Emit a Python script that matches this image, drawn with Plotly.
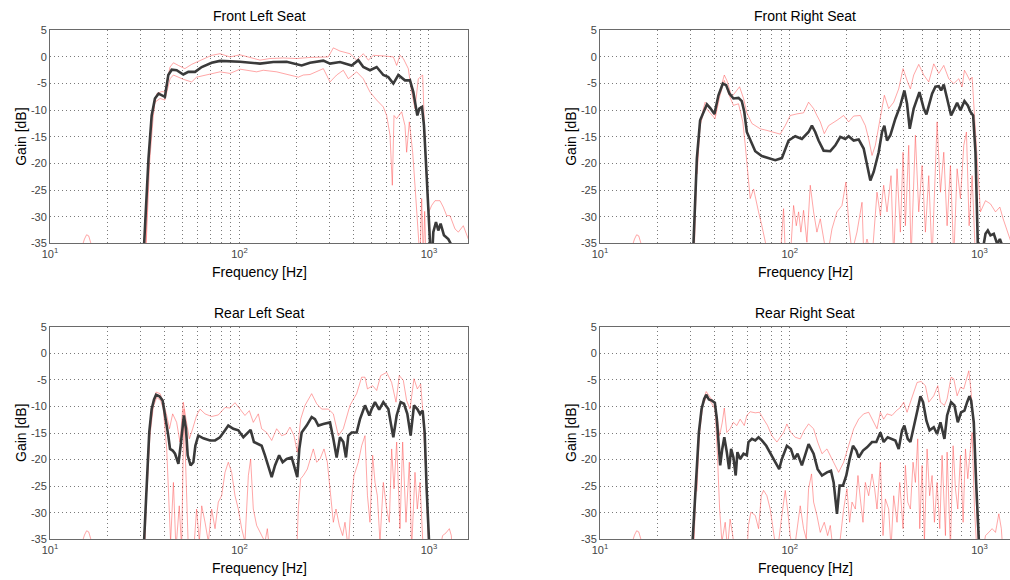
import plotly.graph_objects as go

# ---------------- data (frequency in Hz, gain in dB) ----------------
titles = ["Front Left Seat", "Front Right Seat", "Rear Left Seat", "Rear Right Seat"]
decade_ticks = [10, 100, 1000]
decade_labels = ["10<sup>1</sup>", "10<sup>2</sup>", "10<sup>3</sup>"]
minor_grid = [20, 30, 40, 50, 60, 70, 80, 90, 200, 300, 400, 500, 600, 700, 800, 900]
gain_ticks = [5, 0, -5, -10, -15, -20, -25, -30, -35]

# ---- Front Left ----
fl_mean_f = [31.4, 33.1, 34.4, 35.8, 37.4, 38.9, 40.4, 42.1, 43.9, 46.6, 50.5, 53.7, 58.3, 63.2, 71.3, 78.9,
             100.6, 128.3, 150.9, 177.4, 212.9, 235.6, 277, 300.4, 339.2, 390.9, 423.8, 450.3, 488.4, 529.6,
             574.3, 610.3, 648.5, 689.1, 747.2, 794, 826.8, 868, 889.4, 918.6, 941.3, 972.3, 999.8, 1030,
             1054, 1089, 1120, 1152, 1200, 1265, 1318, 1400]
fl_mean_db = [-35, -19.1, -11.0, -7.8, -6.9, -7.2, -7.5, -3.4, -2.4, -2.5, -3.3, -2.8, -2.8, -1.9, -1.1, -0.75,
              -0.9, -1.25, -0.95, -0.9, -1.6, -1.1, -0.7, -1.25, -0.95, -1.6, -0.6, -1.9, -2.5, -1.9,
              -3.4, -3.8, -5.0, -3.4, -4.4, -4.4, -6.6, -11.0, -9.7, -9.4, -12.9, -22.3, -35, -40,
              -32.9, -31.0, -32.6, -31.3, -33.5, -34.2, -35.4, -37]
fl_up_f = [14, 14.8, 15.2, 15.6, 16.0, 16.5, 17, 31.5, 32.0, 33.3, 34.6, 36.6, 38.9, 40.4, 43.0, 44.8, 47.6,
           51.5, 55.9, 63.2, 71.3, 78.9, 89.1, 100.6, 113.6, 128.3, 144.9, 170.4, 200.3, 235.6, 294.3, 312.8,
           339.2, 383, 415.3, 450.3, 478.6, 508.6, 574.3, 648.5, 675.3, 703.1, 732.2, 778, 810.3, 843.7, 878.7,
           926.2, 952.8, 972.3, 999.8, 1033, 1076, 1143, 1190, 1240, 1291, 1372, 1429, 1518, 1613]
fl_up_db = [-40, -35.5, -34.2, -33.4, -33.6, -35.2, -40, -40, -35, -19, -11, -6.9, -6.5, -6.6, -1.9, -1.1, -1.6,
            -2.2, -1.4, -0.6, 0.3, 0.6, 0, 0.4, -0.1, -0.6, -0.3, -0.2, -0.3, -0.1, 0, 1.7,
            1.1, 0.6, -0.6, 0.6, -0.6, 0.3, 0.2, 0, -1.6, 0.3, -0.3, -2.2, -6.6, -9.7, -4.1,
            -3.4, -16, -23.5, -29.1, -27.9, -27, -27, -28.2, -29.8, -29.8, -32.3, -32.9, -31.7, -34.2]
fl_lo_f = [32.2, 33.6, 35.0, 35.8, 38.1, 40.4, 43.0, 44.8, 50.5, 55.9, 59.4, 69.9, 78.9, 89.1, 100.6, 123.2,
           133.6, 157.1, 184.7, 204.4, 217.3, 235.6, 277, 300.4, 325.7, 353.2, 375.3, 415.3, 450.3, 488.4,
           529.6, 574.3, 598, 622.8, 640.7, 653.8, 675.3, 717.5, 747.2, 762.5, 787.6, 820.2, 843.7, 861,
           882.2, 896.6, 915, 933.7, 949, 964.5, 992]
fl_lo_db = [-35, -19.5, -11.5, -8.5, -7.8, -8.1, -4.1, -3.4, -4.2, -4.7, -3.8, -3.3, -2.8, -3.1, -2.3, -2.8,
            -2.5, -2.8, -3.4, -3.8, -3.4, -3.3, -2.2, -4.7, -3.4, -2.5, -4.1, -2.8, -4.1, -6.6,
            -8.1, -9.4, -11, -14.7, -24.1, -11, -11.6, -10.3, -12.9, -17.9, -12.2, -17.9, -24.1, -29.1,
            -35.1, -38, -26.6, -38, -29, -38, -40]

# ---- Front Right ----
fr_mean_f = [31.1, 32.4, 33.7, 35.1, 36.6, 38.1, 40.1, 42.1, 44.4, 46.2, 48.1, 50.5, 53.7, 55.9, 57.6, 59.4,
             61.9, 65.8, 71.3, 77.3, 83.9, 90.9, 94.7, 98.6, 106.9, 115.9, 125.7, 130.9, 136.3, 141.9, 150.9,
             163.6, 173.9, 184.7, 196.3, 204.4, 217.3, 230.8, 245.3, 255.5, 266, 277, 294.3, 306.5, 315.3,
             325.7, 339.2, 360.4, 383, 402, 415.3, 429, 450.3, 482.6, 508.6, 525.4, 562.8, 586, 610.3, 627.8,
             648.5, 675.3, 708.8, 738.1, 762.5, 794, 833.5, 868, 896.6, 926.2, 952.8, 980.2, 1000, 1076, 1107,
             1143, 1190, 1240, 1281, 1318, 1400]
fr_mean_db = [-35, -19.1, -11.9, -10.3, -8.9, -9.6, -10.7, -7.2, -5.0, -5.3, -6.9, -7.8, -7.7, -8.3, -10.3, -14.1,
              -15.7, -17.7, -18.6, -19, -19.4, -19, -17.2, -15.7, -14.9, -15.4, -14.1, -12.9, -14.1, -15.7, -17.6,
              -17.7, -16.6, -15, -15.4, -14.9, -15.7, -15.5, -17.2, -20.4, -23.2, -21.6, -17.9, -14.1, -12.9,
              -15.7, -14.7, -11.6, -9.1, -6.3, -8.8, -13.5, -9.7, -6.6, -9.7, -10.8, -6.9, -5.6, -5.5, -6.3,
              -5.2, -7.8, -11, -9.7, -8.6, -10, -8.3, -9.1, -10.3, -11, -17.9, -35.1, -40, -33.2, -32.6,
              -33.5, -33.2, -35.1, -34.2, -35.4, -38]
fr_up_f = [14, 14.8, 15.2, 15.6, 16.0, 16.5, 17, 31.2, 32.4, 33.7, 35.8, 38.1, 40.4, 42.7, 45.2, 46.6, 49.5,
           51.5, 54.4, 57.1, 59.4, 63.2, 69.9, 75.8, 82.2, 89.1, 94.7, 100.6, 109.1, 118.3, 125.7, 133.6,
           139.1, 144.9, 152.1, 160.3, 177.4, 192.4, 204.4, 217.3, 235.6, 250.3, 260.7, 271.5, 282.6, 300.4,
           315.3, 332.4, 353.2, 375.3, 395.6, 415.3, 432.5, 450.3, 478.6, 508.6, 540.4, 574.3, 610.3, 648.5,
           689.1, 732.2, 778, 810.3, 833.5, 861, 889.4, 915, 941.3, 972.3, 1012, 1076, 1143, 1215, 1281,
           1333, 1400, 1458]
fr_up_db = [-40, -35.5, -34.2, -33.4, -33.6, -35.2, -40, -40, -20.3, -12.2, -8.5, -9.6, -11, -6.6, -3.4, -4.4, -7.5,
            -6.6, -5.6, -7.8, -10.5, -12.5, -13.5, -13.8, -14.1, -14.5, -12.9, -11, -10.7, -10.5, -8.5, -9.7,
            -11, -12.2, -14.4, -12.9, -11.9, -11, -12.2, -11.1, -11, -12.9, -15.4, -18.5, -16.6, -11.6,
            -7.2, -9.7, -8.5, -6, -2.2, -4.4, -6, -3.4, -1.4, -3.4, -4.7, -1.3, -3.1, -1.6,
            -4.1, -5, -4.1, -5.6, -2.5, -3.4, -4.4, -3.8, -11, -21, -29.1, -27, -27.6, -29.1, -28.2,
            -30.4, -32.9, -34.5]
fr_lo_f = [32.5, 33.7, 35.8, 38.1, 40.4, 42.7, 45.2, 47.6, 50.5, 53.7, 56.6, 58.3, 59.9, 61.9, 64.5, 66.6,
           68.5, 71.3, 74.3, 76.4, 89.1, 92.8, 94.7, 100.6, 104.8, 108.3, 111.4, 114.5, 118.3, 123.2, 128.3,
           133.6, 139.1, 144.9, 152.1, 157.1, 167, 177.4, 188.5, 197.8, 204.4, 212.9, 226.2, 240.4, 245.3,
           255.5, 271.5, 288.4, 300.4, 312.8, 325.7, 341.9, 353.2, 367.8, 383, 395.6, 407, 423.8, 436,
           459.6, 478.6, 498.4, 519, 540.4, 562.8, 598, 622.8, 648.5, 675.3, 703.1, 732.2, 762.5, 794,
           826.8, 854, 882.2, 915, 952.8]
fr_lo_db = [-22, -12.9, -9.4, -10.5, -11.6, -7.5, -4.4, -6.9, -9.1, -8.8, -12.2, -16.6, -21.6, -26.6, -24.8, -27.3,
            -29.1, -31.7, -34.2, -36.7, -37.9, -28.5, -36.7, -37.9, -27.9, -31.7, -29.1, -32.9, -28.8, -34.8, -24.1,
            -29.1, -32.9, -30.4, -34.8, -37.9, -32.3, -29.1, -27.9, -23.5, -31, -36.7, -32.9, -27.3, -36.7,
            -34.2, -37.9, -25.4, -29.8, -24.1, -29.1, -22.3, -37.9, -21, -32.9, -17.9, -31.7, -16.6, -37.9,
            -14.7, -29.1, -20.4, -32.9, -22.3, -37.9, -12.2, -25.4, -17.9, -31.7, -20.4, -37.9, -21, -26.6,
            -16.6, -14.1, -31.7, -22.3, -37.9]

# ---- Rear Left ----
rl_mean_f = [31.4, 32.4, 33.4, 34.4, 35.4, 36.3, 37.8, 39.3, 40.9, 42.1, 43.0, 44.4, 45.7, 47.6, 48.9, 50.1,
             50.9, 52.2, 53.3, 55.2, 57.1, 58.5, 60.6, 64.5, 69.9, 74.3, 78.9, 83.9, 87.3, 92.8, 98.6, 104.8,
             109.1, 114.5, 119.2, 125.7, 130.9, 136.3, 141.9, 147.9, 154, 161.9, 169, 177.4, 188.5, 196.3,
             201.9, 206.9, 212.9, 226.2, 240.4, 250.3, 260.7, 277, 300.4, 312.8, 325.7, 339.2, 353.2, 364.8,
             375.3, 390.9, 415.3, 432.5, 459.6, 484.5, 498.4, 519, 546.1, 574.3, 610.3, 627.8, 648.5, 675.3,
             708.8, 738.1, 768.7, 800.4, 833.5, 868, 896.6, 926.2, 949, 972.3, 999.8, 1050]
rl_mean_db = [-35, -23.6, -14.9, -10.5, -8.7, -7.8, -8.1, -8.9, -12.4, -15.5, -18, -18.3, -18.9, -20.8, -17.4, -13.6,
              -11.7, -14.2, -19.2, -21.1, -20.5, -17.4, -15.5, -16, -16.4, -16.4, -15.8, -14.5, -13.6, -14.2, -14.5, -15.8,
              -15.2, -14.4, -16.7, -17.1, -17.4, -19.2, -21.1, -23.3, -21.1, -19.2, -20.5, -19.9, -19.6, -21.8,
              -23.3, -18, -14.9, -13.6, -12, -12.4, -13.6, -13.3, -13, -16.1, -19.6, -15.8, -16.7, -19.6,
              -15.5, -14.9, -14.9, -12.4, -9.8, -11.7, -10.5, -9.2, -10.6, -9.2, -10.5, -13, -15.8, -11.7,
              -9.2, -9.5, -11.4, -15.5, -9.8, -10.5, -11.4, -10.8, -14.9, -25.5, -35, -40]
rl_up_f = [14, 14.8, 15.2, 15.6, 16.0, 16.5, 17, 31.5, 32.4, 33.7, 35.1, 36.3, 38.1, 39.6, 41.3, 42.7, 44.4,
           46.6, 48.5, 50.5, 52.2, 54.4, 56.6, 59.4, 61.9, 65.8, 71.3, 77.3, 83.9, 89.1, 94.7, 100.6, 106.9,
           112.7, 118.3, 125.7, 130.9, 139.1, 147.9, 157.1, 167, 176, 184.7, 194, 201.9, 210.3, 221.7, 240.4,
           255.5, 271.5, 294.3, 312.8, 332.4, 353.2, 383, 415.3, 441.3, 459.6, 473.6, 504.5, 529.6, 556, 598,
           635.4, 669.9, 697.4, 732.2, 762.5, 794, 833.5, 868, 904, 926.2, 952.8, 992, 1100, 1180, 1230,
           1281, 1312, 1333]
rl_up_db = [-40, -35.5, -34.2, -33.4, -33.6, -35.2, -40, -40, -24.3, -14.2, -9.2, -7.3, -7.6, -9.2, -11.7, -14.2, -11.4,
            -13, -16.7, -9.2, -12.4, -16.1, -14.2, -11.7, -10.5, -11.4, -11.9, -11.6, -10.2, -10.3, -9.3, -10.5, -11.7,
            -10.8, -13, -11.4, -14.2, -14.9, -16.4, -14.2, -15.5, -15.2, -13.9, -15.5, -18.6, -12.4, -9.8, -7.6,
            -9.5, -10.5, -10.5, -11.4, -15.5, -14.2, -9.8, -7.6, -4.5, -4.5, -6.7, -6.1, -7, -4.2, -3.6,
            -5.5, -9.2, -4.2, -5.1, -8.9, -10.5, -4.8, -6.7, -5.8, -10.5, -19.2, -35.2, -40, -34.3, -33.8,
            -33, -34.3, -38]
rl_lo_f = [32.5, 33.7, 35.1, 36.6, 38.4, 39.6, 41.3, 42.7, 43.3, 44.8, 46.2, 48.1, 49.5, 50.9, 52.2, 53.7,
           57.1, 59.4, 61.4, 63.2, 65.8, 68.5, 71.3, 74.3, 77.3, 80.5, 83.9, 87.3, 90.9, 94.7, 98.6, 102.7,
           106.9, 111.4, 114.5, 118.3, 123.2, 130.9, 136.3, 140.3, 144.9, 200.3, 204.4, 210.3, 217.3, 228,
           235.6, 245.3, 255.5, 266, 279.3, 290.8, 300.4, 312.8, 323.1, 336.5, 350.4, 360.4, 375.3, 386.1,
           402, 423.8, 441.3, 459.6, 473.6, 488.4, 504.5, 519, 534, 551.5, 574.3, 598, 617.8, 635.4, 653.8,
           675.3, 703.1, 726.3, 756.4, 787.6, 810.3, 843.7, 868, 896.6, 926.2, 952.8]
rl_lo_db = [-26, -15.5, -10, -8.3, -8.9, -10.5, -18, -31.8, -35.5, -24.3, -36.8, -28.7, -36.8, -10.5, -21.8, -36.8,
            -38, -29.3, -35.5, -28.7, -31.8, -35.5, -29.3, -33, -28, -26.8, -22.4, -20.5, -22.4, -26.8, -29.3, -33,
            -35.5, -23, -19.9, -29.3, -32.4, -34.3, -35.5, -33, -38, -38, -29.3, -23.6, -23, -21.8,
            -19.9, -18, -20.5, -19.9, -18, -20.5, -25.5, -31.8, -29.3, -32.4, -34.3, -31.8, -36.8, -29.3,
            -23, -20.5, -17.4, -15.5, -26.8, -31.8, -19.2, -24.3, -26.8, -35.5, -24.3, -29.3, -31.8, -18, -25.5,
            -16.7, -33, -16.7, -31.8, -20.5, -36.8, -22.4, -29.3, -24.3, -34.9, -38]

# ---- Rear Right ----
rr_mean_f = [30.8, 32.1, 33.2, 34.3, 35.4, 36.3, 37.5, 38.9, 40.3, 41.3, 42.1, 43.0, 44.1, 45.2, 46.6, 47.9,
             49.1, 50.5, 51.9, 53.0, 54.8, 57.1, 59.4, 60.6, 63.2, 65.8, 68.5, 71.3, 75.2, 78.9, 83.9, 88.0,
             90.9, 96.6, 101.4, 105.6, 110, 115.9, 120.7, 125.7, 133.6, 140.3, 147.9, 157.1, 165, 170.4,
             177.4, 183.2, 190.8, 198.7, 206.9, 215.5, 224.4, 230.8, 243.3, 255.5, 271.5, 286.1, 300.4, 312.8,
             328.3, 346.1, 360.4, 375.3, 390.9, 402, 418.7, 432.5, 450.3, 472.8, 488.4, 504.5, 525.4, 546.1,
             574.3, 598, 622.8, 653.8, 675.3, 708.8, 738.1, 768.7, 800.4, 833.5, 861, 885.9, 904, 933.7,
             960.6, 992, 1050]
rr_mean_db = [-35, -23.6, -14.9, -10.5, -8.6, -7.8, -8.7, -8.9, -9.3, -12.4, -16.1, -21.1, -18, -15.8, -18.6, -21.8,
              -18, -19.6, -23, -18.6, -19.9, -18.9, -19.2, -16.7, -16.1, -16.4, -15.8, -16.4, -17.4, -18.9, -20.5, -21.8,
              -19.9, -17.4, -18, -19.9, -18.9, -21.1, -18.9, -17.1, -18.9, -21.8, -23, -22.4, -22.1, -24.3,
              -30.2, -24.9, -24.9, -23, -19.9, -17.4, -18.3, -19.6, -18.3, -17.7, -16.7, -16.7, -14.9, -16.7,
              -15.8, -16.1, -16.4, -18, -14.5, -13.6, -16.1, -16.7, -13.6, -10.5, -8.1, -9.2, -12.7, -14.5,
              -13.9, -15.2, -13, -16.1, -11.7, -9.2, -9.8, -13, -11.1, -10.8, -9.2, -8.1, -8.9, -13,
              -24.3, -35, -40]
rr_up_f = [14, 14.8, 15.2, 15.6, 16.0, 16.5, 17, 31, 32.1, 33.4, 34.8, 36.3, 38.1, 39.9, 41.3, 42.7, 44.1,
           45.2, 46.6, 48.5, 50.5, 52.6, 54.8, 57.6, 59.4, 61.9, 65.8, 69.3, 72.8, 76.4, 80.5, 85.6, 89.1,
           92.8, 96.6, 101.4, 106.9, 113.6, 119.2, 125.7, 133.6, 140.3, 147.9, 157.1, 167, 173.9, 181, 192.4,
           204.4, 217.3, 230.8, 245.3, 260.7, 277, 288.4, 300.4, 312.8, 325.7, 346.1, 364.8, 383, 398.8,
           415.3, 432.5, 450.3, 469, 492.4, 519, 540.4, 574.3, 603, 622.8, 653.8, 675.3, 708.8, 732.2, 762.5,
           794, 826.8, 854, 878.7, 904, 933.7, 964.5, 992, 1033, 1076, 1120, 1166, 1215, 1265, 1304, 1333]
rr_up_db = [-40, -35.5, -34.2, -33.4, -33.6, -35.2, -40, -40, -24.3, -14.2, -9.2, -7.2, -8.3, -9.2, -11.7, -15.5, -13,
            -10.3, -14.9, -14.2, -13, -13.6, -12.4, -13.6, -11.7, -11, -11.2, -11.1, -12.4, -13.6, -15.5, -16.7, -15.8,
            -14.9, -13.3, -14.9, -15.8, -16.1, -14.5, -13.3, -14.2, -16.7, -18.9, -18, -19.9, -21.1, -22.4, -20.5,
            -17.4, -14.2, -12.4, -11.4, -11.1, -13, -14.2, -11.1, -12.4, -11.4, -11.7, -10.8, -10.2, -9.2,
            -11.1, -9.2, -7.3, -5.5, -5.3, -6.1, -9.2, -8, -6.1, -9.2, -9.8, -8.6, -4.5, -4.8, -8,
            -6.4, -6.7, -4.8, -3.3, -7.3, -14.9, -28.7, -38, -38, -34.3, -33.7, -33, -33.7, -30.2, -33, -38]
rr_lo_f = [32.4, 33.4, 34.8, 36.6, 38.9, 40.4, 41.6, 42.7, 43.9, 45.7, 47.0, 48.5, 50.1, 51.5, 59.4, 60.6,
           62.4, 65.8, 68.5, 70.8, 72.8, 75.8, 78.9, 82.2, 85.6, 90.9, 94.7, 97.4, 100.6, 104.8, 110, 113.6,
           118.3, 122.2, 125.7, 130.3, 133.6, 139.1, 144.9, 152.1, 158.4, 163.6, 170.4, 184.7, 192.4, 200.3,
           206.9, 212.9, 221.7, 228.9, 235.6, 243.3, 250.3, 260.7, 271.5, 280.2, 288.4, 300.4, 310.3, 319.2,
           332.4, 341.9, 353.2, 367.8, 380, 395.6, 407, 418.7, 432.5, 446.7, 459.6, 472.8, 484.5, 498.4, 512.8,
           529.6, 546.1, 562.8, 579, 598, 617.8, 635.4, 661.8, 675.3, 703.1, 726.3, 747.2, 768.7, 794, 820.2,
           843.7, 868, 889.4, 915, 941.3, 972.3]
rr_lo_db = [-26, -15.5, -9.8, -8.1, -9.5, -10.5, -19.2, -29.3, -35.5, -31.8, -36.8, -31.2, -34.3, -38, -38, -32.4,
            -29.9, -30.5, -33, -26.8, -25.8, -26.8, -29.3, -33, -38, -30.5, -25.8, -29.3, -34.3, -38, -31.8, -28.7,
            -33, -34.9, -25.5, -22.7, -28, -30.5, -33.7, -31.8, -34.3, -32.4, -38, -34.9, -29.3, -25.5,
            -31.8, -28, -29.3, -23, -27.4, -31.8, -24.3, -26.8, -22.7, -25.5, -29.3, -20.5, -34.3, -27.4,
            -29.3, -36.8, -26.8, -31.8, -24.3, -33, -21.1, -28, -29.3, -20.5, -24.3, -16.1, -33, -21.1, -35.5,
            -18, -26.8, -23, -31.8, -24.3, -33, -19.2, -34.3, -18.6, -36.8, -17.4, -25.5, -29.3, -19.2, -31.8,
            -18, -23.6, -19.2, -14.9, -29.3, -38]

panels = [
    (fl_mean_f, fl_mean_db, fl_up_f, fl_up_db, fl_lo_f, fl_lo_db),
    (fr_mean_f, fr_mean_db, fr_up_f, fr_up_db, fr_lo_f, fr_lo_db),
    (rl_mean_f, rl_mean_db, rl_up_f, rl_up_db, rl_lo_f, rl_lo_db),
    (rr_mean_f, rr_mean_db, rr_up_f, rr_up_db, rr_lo_f, rr_lo_db),
]

# ---------------- layout geometry ----------------
W, H = 1010, 580
# plot boxes in pixels: (left, right, top, bottom, log10 of right edge, centre x for texts)
boxes = [
    (50, 468, 30.3, 243.3, 3.206, 259),
    (600, 1010, 30.3, 243.3, 3.161, 805),
    (50, 468, 326.7, 539.3, 3.206, 259),
    (600, 1010, 326.7, 539.3, 3.161, 805),
]

FONT = "Arial, Liberation Sans, Helvetica, sans-serif"
red = "rgba(255,80,80,0.5)"
black = "#3a3a3a"
grid_col = "#7a7a7a"
axis_col = "#6a6a6a"
DASH = "1px,3px"

fig = go.Figure()
layout = dict(
    width=W, height=H, margin=dict(l=0, r=0, t=0, b=0, pad=0), autosize=False,
    paper_bgcolor="white", plot_bgcolor="white", showlegend=False,
    font=dict(family=FONT, size=11, color="#333333"),
)
annotations = []

for i, (box, data) in enumerate(zip(boxes, panels)):
    l, r, t, b, xr, cx = box
    sfx = "" if i == 0 else str(i + 1)
    xa, ya = "x" + sfx, "y" + sfx
    mf, md, uf, ud, lf, ld = data
    fig.add_trace(go.Scatter(x=lf, y=ld, mode="lines", line=dict(color=red, width=1), xaxis=xa, yaxis=ya))
    fig.add_trace(go.Scatter(x=uf, y=ud, mode="lines", line=dict(color=red, width=1), xaxis=xa, yaxis=ya))
    fig.add_trace(go.Scatter(x=mf, y=md, mode="lines", line=dict(color=black, width=2.6), xaxis=xa, yaxis=ya))

    right_side = r >= W
    layout["xaxis" + sfx] = dict(
        type="log", range=[1, xr], domain=[l / W, min(r / W, 1.0)], anchor=ya, automargin=False,
        tickmode="array", tickvals=decade_ticks, ticktext=decade_labels,
        showgrid=True, gridcolor=grid_col, griddash=DASH, gridwidth=1,
        minor=dict(tickmode="array", tickvals=minor_grid, showgrid=True, gridcolor=grid_col,
                   griddash=DASH, gridwidth=1, ticks=""),
        showline=True, linecolor=axis_col, linewidth=1, mirror=True,
        ticks="", zeroline=False, tickfont=dict(size=11, color="#444444"),
    )
    layout["yaxis" + sfx] = dict(
        range=[-35, 5], domain=[1 - b / H, 1 - t / H], anchor=xa, automargin=False,
        tickmode="array", tickvals=gain_ticks, ticktext=[str(v) for v in gain_ticks],
        showgrid=True, gridcolor=grid_col, griddash=DASH, gridwidth=1,
        showline=True, linecolor=axis_col, linewidth=1, mirror=(not right_side),
        ticks="", zeroline=False, tickfont=dict(size=11, color="#444444"),
    )
    annotations.append(dict(text=titles[i], x=cx / W, y=1 - (t - 14) / H, xref="paper", yref="paper",
                            showarrow=False, font=dict(size=14, color="black", family=FONT),
                            xanchor="center", yanchor="middle"))
    annotations.append(dict(text="Frequency [Hz]", x=cx / W, y=1 - (b + 29) / H, xref="paper", yref="paper",
                            showarrow=False, font=dict(size=14, color="black", family=FONT),
                            xanchor="center", yanchor="middle"))
    annotations.append(dict(text="Gain [dB]", x=(l - 29) / W, y=1 - ((t + b) / 2) / H, xref="paper", yref="paper",
                            showarrow=False, textangle=-90, font=dict(size=14, color="black", family=FONT),
                            xanchor="center", yanchor="middle"))

layout["annotations"] = annotations
fig.update_layout(**layout)
fig.write_html("out.html", config={"displayModeBar": False, "staticPlot": True},
               post_script="document.body.style.margin='0';document.body.style.padding='0';"
                           "document.body.style.overflow='hidden';")
